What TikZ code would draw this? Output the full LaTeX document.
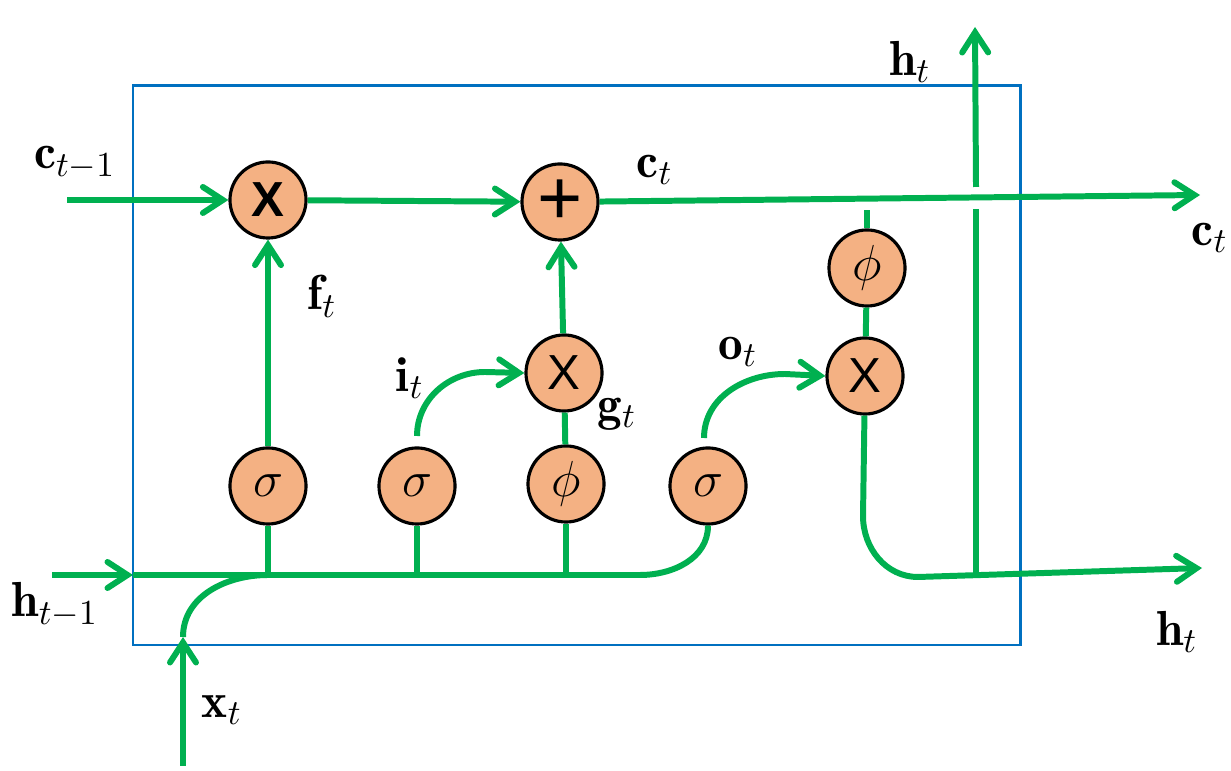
\documentclass[tikz,border=0pt]{standalone}
\usepackage{fontspec}
\newfontfamily\xfont{Liberation Sans}
\usetikzlibrary{arrows.meta}
\definecolor{lgreen}{HTML}{00B050}
\definecolor{lorange}{HTML}{F4B183}
\definecolor{lblue}{HTML}{0070C0}
\begin{document}
\begin{tikzpicture}[x=0.01cm,y=0.01cm,
  gate/.style={circle,draw=black,line width=0.9pt,fill=lorange,minimum size=0.76cm,inner sep=0pt,font=\fontsize{14}{16}\selectfont},
  flow/.style={draw=lgreen,line width=1.7pt},
  arr/.style={flow,-{Straight Barb[length=2mm,width=2.6mm,line cap=round]}},
  lab/.style={font=\fontsize{14}{16}\selectfont,inner sep=0pt}]
\useasboundingbox (0,0) rectangle (1231,-771);
% cell box
\draw[lblue,line width=0.85pt] (133,-86) rectangle (1020,-645);
% gates
\node[gate] (mul1) at (268,-200) {\xfont\bfseries X};
\node[gate] (plus) at (560,-202) {\xfont\fontsize{22}{22}\selectfont +};
\node[gate] (mul2) at (564,-373) {\xfont X};
\node[gate] (sig1) at (268,-486) {$\sigma$};
\node[gate] (sig2) at (417,-486) {$\sigma$};
\node[gate] (phi1) at (566,-484) {$\phi$};
\node[gate] (sig3) at (708,-486) {$\sigma$};
\node[gate] (phi2) at (867,-268) {$\phi$};
\node[gate] (mul3) at (865,-376) {\xfont X};
% coordinates
\coordinate (ctm1) at (67,-200);
\coordinate (ctout) at (1200,-195);
\coordinate (hin) at (52,-575);
\coordinate (hbox) at (133,-575);
\coordinate (hs1) at (268,-575);
\coordinate (hs2) at (417,-575);
\coordinate (hs3) at (566,-575);
\coordinate (hcurve) at (640,-575);
\coordinate (xbot) at (183,-766);
\coordinate (xin) at (183,-637);
\coordinate (i1) at (417,-436);
\coordinate (i2) at (485,-372);
\coordinate (o1) at (704,-438);
\coordinate (o2) at (785,-374);
\coordinate (phistub) at (867,-210);
\coordinate (m3a) at (863,-516);
\coordinate (m3b) at (918,-577);
\coordinate (hjoin) at (976,-576);
\coordinate (hout) at (1202,-568);
\coordinate (vgaplo) at (976,-209);
\coordinate (vgaphi) at (976,-187);
\coordinate (htop) at (975,-27);
% cell state path
\draw[arr] (ctm1) -- (mul1);
\draw[arr] (mul1) -- (plus);
\draw[arr] (plus) -- (ctout);
% hidden / input
\draw[arr] (hin) -- (hbox);
\draw[flow] (hbox) -- (hcurve) to[out=0,in=-90] (sig3.south);
\draw[arr] (xbot) -- (xin);
\draw[flow] (xin) to[out=90,in=180] (hs1);
\draw[flow] (hs1) -- (sig1.south);
\draw[flow] (hs2) -- (sig2.south);
\draw[flow] (hs3) -- (phi1.south);
% gates to ops
\draw[arr] (sig1) -- (mul1);
\draw[arr] (i1) to[out=90,in=180] (i2) -- (mul2.west);
\draw[flow] (phi1) -- (mul2);
\draw[arr] (mul2) -- (plus);
\draw[arr] (o1) to[out=90,in=180] (o2) -- (mul3.west);
\draw[flow] (phi2.north) -- (phistub);
\draw[flow] (phi2) -- (mul3);
\draw[arr] (mul3) -- (m3a) to[out=-90,in=180] (m3b) -- (hout);
\draw[flow] (hjoin) -- (vgaplo);
\draw[arr] (vgaphi) -- (htop);
% labels
\node[lab] (lctm1) at (75,-163) {$\mathbf{c}_{t-1}$};
\node[lab] (lft) at (322,-296) {$\mathbf{f}_{t}$};
\node[lab] (lit) at (410,-378) {$\mathbf{i}_{t}$};
\node[lab] (lgt) at (617,-414) {$\mathbf{g}_{t}$};
\node[lab] (lot) at (738,-352) {$\mathbf{o}_{t}$};
\node[lab] (lct) at (655,-170) {$\mathbf{c}_{t}$};
\node[lab] (lctr) at (1210,-238) {$\mathbf{c}_{t}$};
\node[lab] (lhtt) at (910,-62) {$\mathbf{h}_{t}$};
\node[lab] (lhtr) at (1177,-632) {$\mathbf{h}_{t}$};
\node[lab] (lhtm1) at (55,-605) {$\mathbf{h}_{t-1}$};
\node[lab] (lxt) at (222,-710) {$\mathbf{x}_{t}$};
\end{tikzpicture}
\end{document}
